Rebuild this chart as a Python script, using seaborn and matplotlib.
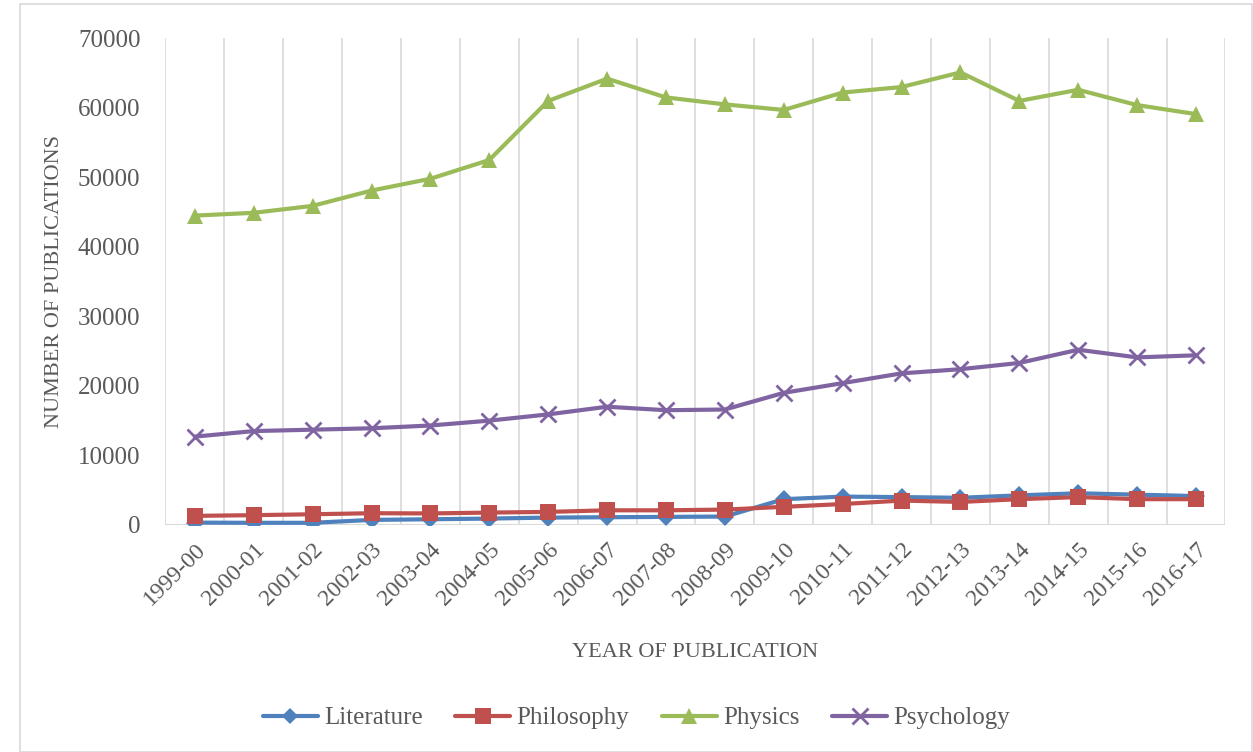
import pandas as pd
import seaborn as sns
import matplotlib.pyplot as plt
from matplotlib.patches import Rectangle

years = ["1999-00", "2000-01", "2001-02", "2002-03", "2003-04", "2004-05",
         "2005-06", "2006-07", "2007-08", "2008-09", "2009-10", "2010-11",
         "2011-12", "2012-13", "2013-14", "2014-15", "2015-16", "2016-17"]

literature = [330, 300, 300, 720, 810, 910, 1050, 1100, 1150, 1200,
              3700, 4070, 4000, 3900, 4250, 4550, 4350, 4150]
philosophy = [1300, 1400, 1530, 1680, 1650, 1770, 1870, 2100, 2100, 2200,
              2600, 3000, 3500, 3300, 3700, 4000, 3700, 3700]
physics = [44500, 44900, 45900, 48100, 49800, 52500, 61000, 64200, 61500, 60500,
           59700, 62200, 63000, 65100, 61000, 62600, 60400, 59100]
psychology = [12700, 13500, 13700, 13900, 14300, 15000, 15900, 17000, 16500, 16600,
              19000, 20400, 21800, 22400, 23300, 25200, 24100, 24400]

subjects = ["Literature", "Philosophy", "Physics", "Psychology"]
colors = ["#4F81BD", "#C0504D", "#9BBB59", "#8064A2"]
markers = ["D", "s", "^", "x"]


def main():
    rows = []
    for name, vals in zip(subjects, [literature, philosophy, physics, psychology]):
        for i, v in enumerate(vals):
            rows.append({"year": years[i], "pos": i, "count": v, "subject": name})
    df = pd.DataFrame(rows)

    sns.set_style("white")
    plt.rcParams['font.family'] = ['Liberation Serif', 'DejaVu Serif']
    text_color = "#595959"

    fig = plt.figure(figsize=(12.53, 7.52), dpi=100)
    ax = fig.add_axes([0.132, 0.302, 0.846, 0.647])

    # one call per subject, since filled and line markers can't be mixed
    for name, c, m in zip(subjects, colors, markers):
        sub = df[df["subject"] == name]
        sns.lineplot(data=sub, x="pos", y="count", color=c, marker=m,
                     linewidth=3, markersize=12 if m != "D" else 9,
                     markeredgewidth=2 if m == "x" else 0, markeredgecolor=c,
                     ax=ax, label=name, legend=False)

    ax.set_xlim(-0.5, len(years) - 0.5)
    ax.set_ylim(0, 70000)
    ax.set_yticks(range(0, 70001, 10000))
    ax.set_xticks(range(len(years)))
    ax.set_xticklabels(years, rotation=45, ha="right", rotation_mode="anchor")
    ax.tick_params(axis="both", colors=text_color, labelsize=18, length=0)
    ax.tick_params(axis="x", labelsize=17, pad=10)
    ax.tick_params(axis="y", pad=18)

    # vertical grid only, between categories
    for x in range(len(years) + 1):
        ax.axvline(x - 0.5, color="#D9D9D9", linewidth=1.2, zorder=0)
    ax.axhline(0, color="#D9D9D9", linewidth=1.5, zorder=0)
    for s in ax.spines.values():
        s.set_visible(False)

    ax.set_xlabel("YEAR OF PUBLICATION", color=text_color, fontsize=16, labelpad=24)
    ax.set_ylabel("NUMBER OF PUBLICATIONS", color=text_color, fontsize=16, labelpad=10)

    handles = [plt.Line2D([], [], color=c, marker=m, linewidth=3,
                          markersize=11 if m != "D" else 8,
                          markeredgewidth=2 if m == "x" else 0, markeredgecolor=c)
               for c, m in zip(colors, markers)]
    leg = fig.legend(handles, subjects, loc="center", bbox_to_anchor=(0.508, 0.045),
                     ncol=4, frameon=False, fontsize=18, handlelength=2.2,
                     handletextpad=0.25, columnspacing=1.3)
    for t in leg.get_texts():
        t.set_color(text_color)

    # chart border
    fig.patches.append(Rectangle((0.016, 0.0), 0.983, 0.995, transform=fig.transFigure,
                                 fill=False, edgecolor="#D9D9D9", linewidth=1.2))

    fig.savefig("out.png", dpi=100)
    plt.close(fig)


if __name__ == '__main__':
    main()
